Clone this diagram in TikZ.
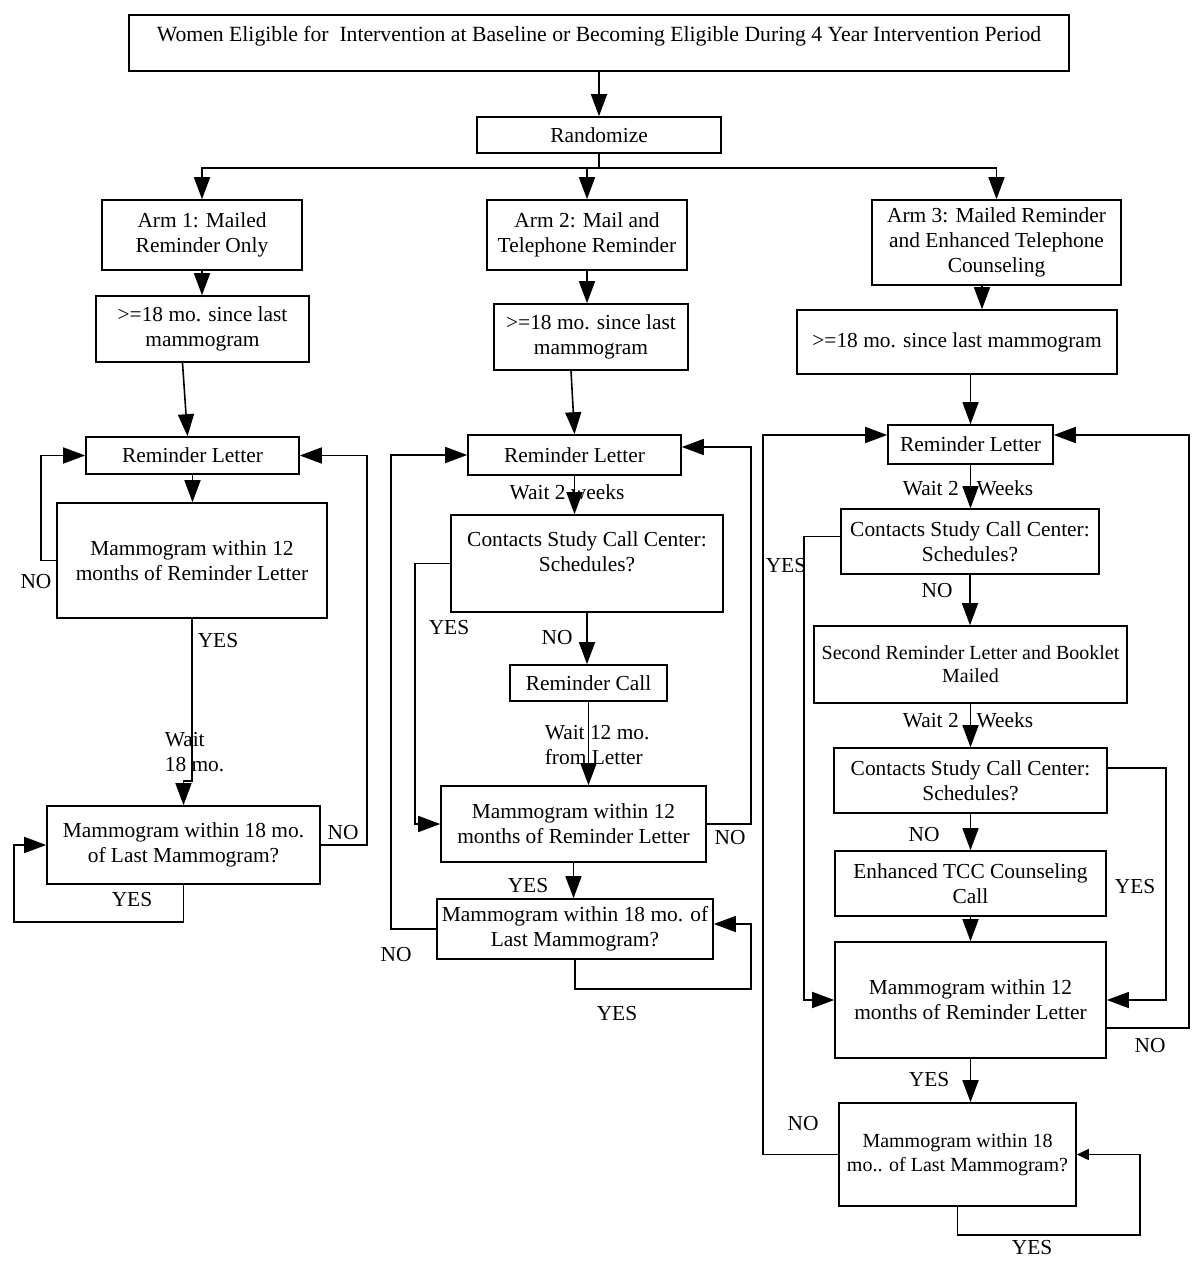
\documentclass[tikz,border=0pt]{standalone}
\usepackage{fontspec}
\setmainfont{Liberation Serif}
\usetikzlibrary{arrows.meta}
\begin{document}
\begin{tikzpicture}[x=1pt,y=-1pt,
  font=\fontsize{21.4pt}{25pt}\selectfont,
  line width=1.6pt,
  blk/.style={draw, inner sep=0pt, align=center},
  lbl/.style={inner sep=0pt, align=center},
  arr/.style={-{Triangle[length=22pt,width=16pt]}},
  sarr/.style={-{Triangle[length=12pt,width=11pt]}}]
\fill[white] (0,0) rectangle (1200,1268);
\useasboundingbox (0,0) rectangle (1200,1268);

% ---- top ----
\node[blk, minimum width=940pt, minimum height=56pt] (title) at (599,43) {};
\node[lbl, font=\fontsize{21.7pt}{25pt}\selectfont] (titletxt) at (599,36) {Women Eligible for~ Intervention at Baseline or Becoming Eligible During 4 Year Intervention Period};
\node[blk, minimum width=244pt, minimum height=36pt] (rand) at (599,135) {Randomize};

\node[blk, minimum width=200pt, minimum height=70pt] (arm1) at (202,235) {Arm 1: Mailed\\Reminder Only};
\node[blk, minimum width=200pt, minimum height=70pt] (arm2) at (587,235) {Arm 2: Mail and\\Telephone Reminder};
\node[blk, minimum width=249pt, minimum height=85pt] (arm3) at (996.5,242.5) {Arm 3: Mailed Reminder\\and Enhanced Telephone\\Counseling};

\node[blk, minimum width=213pt, minimum height=66pt] (b1) at (202.5,329) {>=18 mo. since last\\mammogram};
\node[blk, minimum width=194pt, minimum height=66pt] (b2) at (591,337) {>=18 mo. since last\\mammogram};
\node[blk, minimum width=320pt, minimum height=64pt] (b3) at (957,342) {>=18 mo. since last mammogram};

% ---- arm 1 ----
\node[blk, minimum width=213pt, minimum height=37pt] (rl1) at (192.5,455.5) {Reminder Letter};
\node[blk, minimum width=270pt, minimum height=115pt] (m12a) at (192,560.5) {Mammogram within 12\\months of Reminder Letter};
\node[blk, minimum width=273pt, minimum height=78pt] (m18a) at (183.5,845) {Mammogram within 18 mo.\\of Last Mammogram?};

% ---- arm 2 ----
\node[blk, minimum width=213pt, minimum height=40pt] (rl2) at (574.5,455) {Reminder Letter};
\node[blk, minimum width=272pt, minimum height=97pt,
  label={[lbl, yshift=12pt]center:Contacts Study Call Center:\\Schedules?}] (csc2) at (587,563.5) {};
\node[blk, minimum width=157pt, minimum height=36pt] (rc2) at (588.5,683) {Reminder Call};
\node[blk, minimum width=265pt, minimum height=76pt] (m12b) at (573.5,824) {Mammogram within 12\\months of Reminder Letter};
\node[blk, minimum width=276pt, minimum height=60pt] (m18b) at (575,929) {Mammogram within 18 mo. of\\Last Mammogram?};

% ---- arm 3 ----
\node[blk, minimum width=165pt, minimum height=39pt] (rl3) at (970.5,444.5) {Reminder Letter};
\node[blk, minimum width=258pt, minimum height=65pt] (csc3a) at (970,541.5) {Contacts Study Call Center:\\Schedules?};
\node[blk, minimum width=313pt, minimum height=77pt, font=\fontsize{20pt}{23pt}\selectfont] (srl) at (970.5,664.5) {Second Reminder Letter and Booklet\\Mailed};
\node[blk, minimum width=273pt, minimum height=65pt] (csc3b) at (970.5,780.5) {Contacts Study Call Center:\\Schedules?};
\node[blk, minimum width=271pt, minimum height=65pt] (etcc) at (970.5,883.5) {Enhanced TCC Counseling\\Call};
\node[blk, minimum width=271pt, minimum height=116pt] (m12c) at (970.5,1000) {Mammogram within 12\\months of Reminder Letter};
\node[blk, minimum width=237pt, minimum height=103pt, font=\fontsize{20pt}{24pt}\selectfont] (m18c) at (957.5,1154.5) {Mammogram within 18\\mo.. of Last Mammogram?};

% ---- labels ----
\node[lbl] (no1a) at (36,582) {NO};
\node[lbl] (yes1a) at (218,641) {YES};
\node[lbl, anchor=west, align=left] (wait1) at (164,752) {Wait\\18 mo.};
\node[lbl] (yes1b) at (132,900) {YES};
\node[lbl] (no1b) at (343,833) {NO};

\node[lbl] (wait2a) at (567,492) {Wait 2 weeks};
\node[lbl] (yes2a) at (449,628) {YES};
\node[lbl] (no2a) at (557,638) {NO};
\node[lbl, anchor=west, align=left] (wait2b) at (544,745) {Wait 12 mo.\\from Letter};
\node[lbl] (no2b) at (730,838) {NO};
\node[lbl] (yes2b) at (528,886) {YES};
\node[lbl] (no2c) at (396,955) {NO};
\node[lbl] (yes2c) at (617,1014) {YES};

\node[lbl] (wait3a) at (968,488) {Wait 2\hspace{18pt}Weeks};
\node[lbl] (yes3a) at (786,566) {YES};
\node[lbl] (no3a) at (937,591) {NO};
\node[lbl] (wait3b) at (968,720) {Wait 2\hspace{18pt}Weeks};
\node[lbl] (no3b) at (924,835) {NO};
\node[lbl] (yes3b) at (1135,887) {YES};
\node[lbl] (no3c) at (1150,1046) {NO};
\node[lbl] (yes3c) at (929,1080) {YES};
\node[lbl] (no3d) at (803,1124) {NO};
\node[lbl] (yes3d) at (1032,1248) {YES};

% ---- connectors: top ----
\draw[arr] (title.south) -- (rand.north);
\draw (rand.south) -- ++(0,14) coordinate (br);
\draw[arr] (br) -| (arm1.north);
\draw[arr] (br) -| (arm2.north);
\draw[arr] (br) -| (arm3.north);
\coordinate (x3) at (982,0);
\draw[arr] (arm1.south) -- (arm1.south |- b1.north);
\draw[arr] (arm2.south) -- (arm2.south |- b2.north);
\draw[arr] (arm3.south -| x3) -- (b3.north -| x3);

% ---- arm 1 ----
\draw[arr] ([xshift=-20pt]b1.south) -- ([xshift=-5pt]rl1.north);
\draw[arr] (rl1.south) -- (rl1.south |- m12a.north);
\draw[arr] (m12a.west) -- ++(-15,0) |- (rl1.west);
\draw[arr] (m12a.south) -- ++(0,162) -| (m18a.north);
\draw[arr] (m18a.south) -- ++(0,37) -| ([xshift=-32pt]m18a.west) -- (m18a.west);
\draw[arr] (m18a.east) -- ++(46,0) |- (rl1.east);

% ---- arm 2 ----
\draw[arr] ([xshift=-20pt]b2.south) -- (rl2.north);
\draw[arr] (rl2.south) -- (rl2.south |- csc2.north);
\draw[arr] (csc2.south) -- (csc2.south |- rc2.north);
\draw[arr] (csc2.west) -- ++(-35,0) |- (m12b.west);
\draw[arr] (rc2.south) -- (rc2.south |- m12b.north);
\draw[arr] (m12b.east) -- ++(44,0) |- ([yshift=8pt]rl2.east);
\draw[arr] (m12b.south) -- (m12b.south |- m18b.north);
\draw[arr] (m18b.west) -- ++(-45,0) |- (rl2.west);
\draw[arr] (m18b.south) -- ++(0,29) -| ([xshift=37pt,yshift=5pt]m18b.east) -- ([yshift=5pt]m18b.east);

% ---- arm 3 ----
\draw[arr] (rl3.north |- b3.south) -- (rl3.north);
\draw[arr] (rl3.south) -- (rl3.south |- csc3a.north);
\draw[arr] ([yshift=5pt]csc3a.west) -- ++(-36,0) |- (m12c.west);
\draw[arr] (csc3a.south) -- (csc3a.south |- srl.north);
\draw[arr] (srl.south) -- (srl.south |- csc3b.north);
\draw[arr] ([yshift=12.5pt]csc3b.east) -- ++(58,0) |- (m12c.east);
\draw[arr] (csc3b.south) -- (csc3b.south |- etcc.north);
\draw[arr] (etcc.south) -- (etcc.south |- m12c.north);
\draw[arr] ([yshift=-28pt]m12c.east) -- ++(82,0) |- ([yshift=9.5pt]rl3.east);
\draw[arr] (m12c.south -| rl3.south) -- (m18c.north -| rl3.south);
\draw[arr] (m18c.west) -- ++(-75,0) |- ([yshift=9.5pt]rl3.west);
\draw[sarr] (m18c.south) -- ++(0,28) -| ([xshift=63pt]m18c.east) -- (m18c.east);
\end{tikzpicture}
\end{document}
